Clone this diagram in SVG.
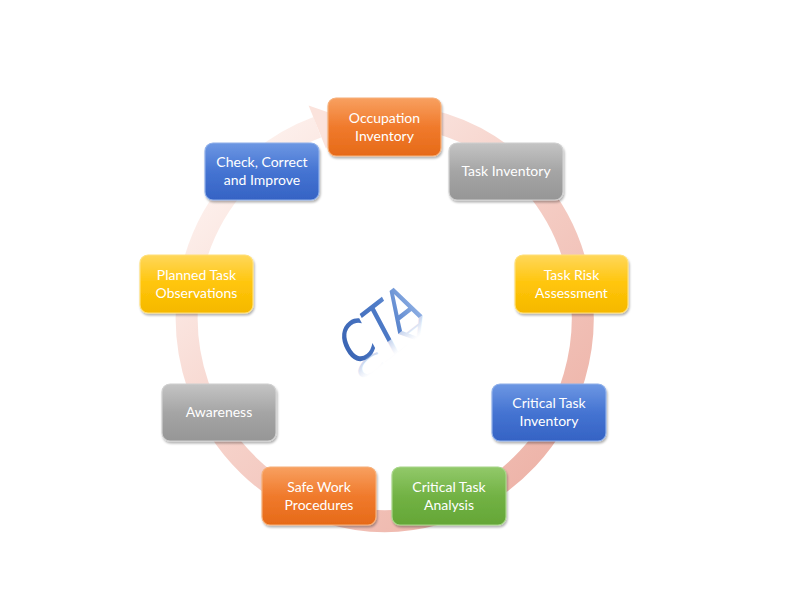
<svg xmlns="http://www.w3.org/2000/svg" width="800" height="600" viewBox="0 0 800 600">
<defs>
<linearGradient id="ring" gradientUnits="userSpaceOnUse" x1="230" y1="170" x2="520" y2="480">
<stop offset="0" stop-color="#fdf0ec"/>
<stop offset="0.45" stop-color="#f6d2ca"/>
<stop offset="1" stop-color="#eeb5aa"/>
</linearGradient>
<linearGradient id="gOrange" x1="0" y1="0" x2="0" y2="1">
<stop offset="0" stop-color="#f8a060"/><stop offset="0.5" stop-color="#f07a2c"/><stop offset="1" stop-color="#e66a18"/>
</linearGradient>
<linearGradient id="gGray" x1="0" y1="0" x2="0" y2="1">
<stop offset="0" stop-color="#c4c4c4"/><stop offset="0.5" stop-color="#a5a5a5"/><stop offset="1" stop-color="#969696"/>
</linearGradient>
<linearGradient id="gYellow" x1="0" y1="0" x2="0" y2="1">
<stop offset="0" stop-color="#ffd75a"/><stop offset="0.5" stop-color="#ffc50a"/><stop offset="1" stop-color="#f5b800"/>
</linearGradient>
<linearGradient id="gBlue" x1="0" y1="0" x2="0" y2="1">
<stop offset="0" stop-color="#6d97e3"/><stop offset="0.5" stop-color="#4574d2"/><stop offset="1" stop-color="#3563c4"/>
</linearGradient>
<linearGradient id="gGreen" x1="0" y1="0" x2="0" y2="1">
<stop offset="0" stop-color="#92c96a"/><stop offset="0.5" stop-color="#72b244"/><stop offset="1" stop-color="#64a636"/>
</linearGradient>
<linearGradient id="gCta" x1="0" y1="0" x2="1" y2="0">
<stop offset="0" stop-color="#3a64b3"/><stop offset="0.6" stop-color="#4f7cc8"/><stop offset="1" stop-color="#8fb0e4"/>
</linearGradient>
<linearGradient id="gRefl" x1="0" y1="0" x2="0" y2="1">
<stop offset="0.2" stop-color="#9fb6e2" stop-opacity="0"/><stop offset="1" stop-color="#7d9bd6" stop-opacity="0.6"/>
</linearGradient>
<filter id="sh" x="-10%" y="-10%" width="125%" height="135%">
<feDropShadow dx="1" dy="2" stdDeviation="1.3" flood-color="#000" flood-opacity="0.3"/>
</filter>
</defs>
<style>
.box{stroke-width:1.2;filter:url(#sh)}
.o{fill:url(#gOrange);stroke:#f6b07a}
.g{fill:url(#gGray);stroke:#d0d0d0}
.y{fill:url(#gYellow);stroke:#ffe07a}
.b{fill:url(#gBlue);stroke:#8fb0ea}
.gr{fill:url(#gGreen);stroke:#a8d68a}
.t{font-family:Lato,"Open Sans","Liberation Sans",sans-serif;font-size:14px;fill:#ffffff;text-anchor:middle}
.cta{font-family:"DejaVu Sans","Liberation Sans",sans-serif;font-size:54px;text-anchor:middle}
</style>
<rect width="800" height="600" fill="#ffffff"/>
<g id="connectors">
<path d="M350.6,118.1 A198,203 0 1 1 317.3,127.2" fill="none" stroke="url(#ring)" stroke-width="22"/>
<polygon points="343,117.6 326,148.8 308.6,105.6" fill="#fbe3dc"/>
</g>
<g id="cta">
<g transform="translate(388,342) rotate(-38) skewX(-10)">
<text class="cta" x="0" y="0" fill="url(#gCta)" transform="scale(0.85,1)">CTA</text>
<g transform="scale(0.85,-0.4)">
<text class="cta" x="0" y="0" fill="url(#gRefl)">CTA</text>
</g>
</g>
</g>
<g id="n1"><rect class="box o" x="328" y="98" width="113" height="58" rx="8"/><text class="t" x="384.5" y="123">Occupation</text><text class="t" x="384.5" y="141">Inventory</text></g>
<g id="n2"><rect class="box g" x="449" y="143" width="114" height="57" rx="8"/><text class="t" x="506" y="176">Task Inventory</text></g>
<g id="n3"><rect class="box y" x="515" y="255" width="113" height="58" rx="8"/><text class="t" x="571.5" y="280">Task Risk</text><text class="t" x="571.5" y="298">Assessment</text></g>
<g id="n4"><rect class="box b" x="492" y="384" width="114" height="57" rx="8"/><text class="t" x="549" y="408">Critical Task</text><text class="t" x="549" y="426">Inventory</text></g>
<g id="n5"><rect class="box gr" x="392" y="467" width="114" height="58" rx="8"/><text class="t" x="449" y="492">Critical Task</text><text class="t" x="449" y="510">Analysis</text></g>
<g id="n6"><rect class="box o" x="262" y="467" width="114" height="58" rx="8"/><text class="t" x="319" y="492">Safe Work</text><text class="t" x="319" y="510">Procedures</text></g>
<g id="n7"><rect class="box g" x="162" y="384" width="114" height="57" rx="8"/><text class="t" x="219" y="417">Awareness</text></g>
<g id="n8"><rect class="box y" x="140" y="255" width="113" height="58" rx="8"/><text class="t" x="196.5" y="280">Planned Task</text><text class="t" x="196.5" y="298">Observations</text></g>
<g id="n9"><rect class="box b" x="205" y="143" width="114" height="57" rx="8"/><text class="t" x="262" y="167">Check, Correct</text><text class="t" x="262" y="185">and Improve</text></g>
</svg>
